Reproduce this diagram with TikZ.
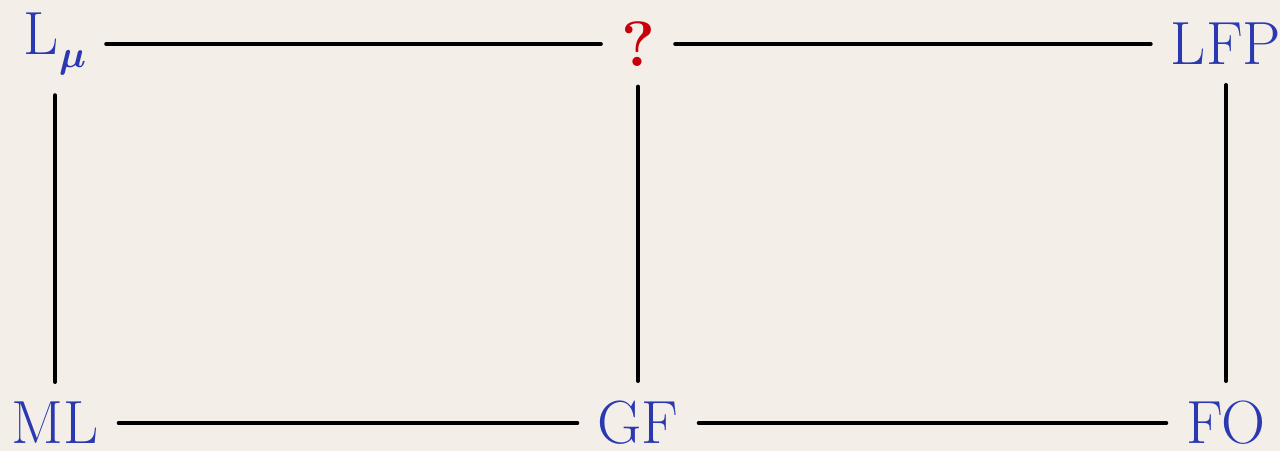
\documentclass[tikz,border=0pt]{standalone}
\usepackage{amsmath,amsbsy,graphicx}
\definecolor{bg}{RGB}{243,238,231}
\definecolor{lblue}{RGB}{42,56,178}
\definecolor{lred}{RGB}{200,0,10}
\newcommand{\bigmu}{\raisebox{-13pt}{\scalebox{3.8}{\fontsize{10}{12}\selectfont$\boldsymbol{\mu}$}}}
\begin{document}
\begin{tikzpicture}[x=1pt,y=-1pt,
  lbl/.style={text=lblue,font=\fontsize{61}{73}\selectfont,inner sep=20pt},
  qlbl/.style={text=lred,font=\fontsize{64}{76}\selectfont\bfseries,inner sep=20pt},
  edge/.style={line width=4pt,line cap=round}]
\fill[bg] (0,0) rectangle (1280,451);
\useasboundingbox (0,0) rectangle (1280,451);
\node[lbl] (Lmu) at (55,44) {L\bigmu};
\node[qlbl] (q) at (638,44) {?};
\node[lbl] (LFP) at (1226,44) {LFP};
\node[lbl] (ML) at (55,423) {ML};
\node[lbl] (GF) at (638,423) {GF};
\node[lbl] (FO) at (1226,423) {FO};
\draw[edge] (Lmu) -- (q);
\draw[edge] (q) -- (LFP);
\draw[edge] (ML) -- (GF);
\draw[edge] (GF) -- (FO);
\draw[edge] (Lmu) -- (ML);
\draw[edge] (q) -- (GF);
\draw[edge] (LFP) -- (FO);
\end{tikzpicture}
\end{document}
